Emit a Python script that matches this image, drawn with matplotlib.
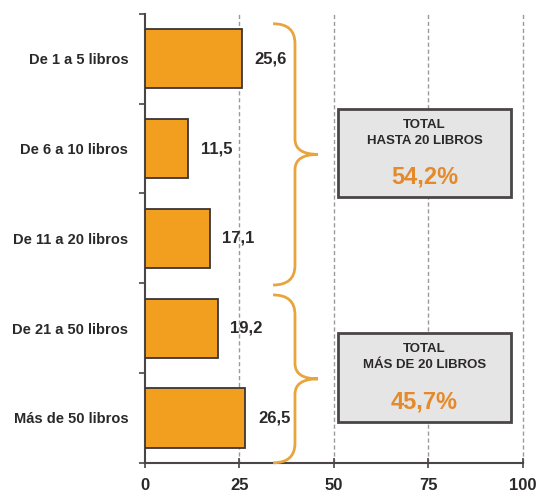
import matplotlib.pyplot as plt
from matplotlib.path import Path
from matplotlib.patches import PathPatch, Rectangle

plt.rcParams['font.family'] = ['Liberation Sans', 'DejaVu Sans']

categorias = ['De 1 a 5 libros', 'De 6 a 10 libros', 'De 11 a 20 libros',
              'De 21 a 50 libros', 'Más de 50 libros']
valores = [25.6, 11.5, 17.1, 19.2, 26.5]
grupos = [(0, 3, 'TOTAL\nHASTA 20 LIBROS'), (3, 5, 'TOTAL\nMÁS DE 20 LIBROS')]
xticks = [0, 25, 50, 75, 100]

naranja = '#F29E1F'
naranja_llave = '#E9A53D'
gris_oscuro = '#4A4546'
texto = '#2b2828'

fig = plt.figure(figsize=(5.39, 4.95), dpi=100)
ax = fig.add_axes([0.269, 0.065, 0.701, 0.907])

y = list(range(len(categorias)))
ax.barh(y, valores, height=0.66, color=naranja, edgecolor='#3a3536',
        linewidth=1.3, zorder=3)

for yi, v in zip(y, valores):
    ax.text(v + 3.4, yi, f'{v:.1f}'.replace('.', ','), va='center', ha='left',
            fontsize=12, fontweight='bold', color=texto)

ax.set_xlim(0, 100)
ax.set_ylim(4.5, -0.5)
ax.set_xticks(xticks)
ax.set_xticklabels([str(t) for t in xticks], fontsize=12, fontweight='bold',
                   color=texto)
ax.set_yticks(y)
ax.set_yticklabels(categorias, fontsize=10.5, fontweight='bold', color=texto)
ax.set_yticks([i - 0.5 for i in range(len(categorias) + 1)], minor=True)
ax.tick_params(axis='y', which='major', length=0, pad=12)
ax.tick_params(axis='y', which='minor', length=4, width=1.2, color=gris_oscuro,
               direction='out')
ax.tick_params(axis='x', length=7, width=1.2, color=gris_oscuro,
               direction='inout', pad=7.5)

for s in ['top', 'right']:
    ax.spines[s].set_visible(False)
for s in ['left', 'bottom']:
    ax.spines[s].set_color(gris_oscuro)
    ax.spines[s].set_linewidth(1.5)

for t in xticks[1:]:
    ax.axvline(t, color='#9a9a9a', linestyle=(0, (3, 2)), linewidth=1, zorder=1,
               clip_on=False)


def llave(ax, y0, y1, x0=33.9, xv=39.7, xt=45.8, r=0.22, rt=0.17):
    ym = (y0 + y1) / 2
    verts = [
        (x0, y0), (xv, y0), (xv, y0 + r),
        (xv, ym - rt),
        (xv, ym), (xt, ym),
        (xv, ym), (xv, ym + rt),
        (xv, y1 - r),
        (xv, y1), (x0, y1),
    ]
    codes = [Path.MOVETO, Path.CURVE3, Path.CURVE3,
             Path.LINETO,
             Path.CURVE3, Path.CURVE3,
             Path.CURVE3, Path.CURVE3,
             Path.LINETO,
             Path.CURVE3, Path.CURVE3]
    ax.add_patch(PathPatch(Path(verts, codes), fill=False, edgecolor=naranja_llave,
                           linewidth=2, clip_on=False, zorder=4))


for (i0, i1, titulo), (ya, yb), (ytop, ybot) in zip(
        grupos, [(-0.39, 2.52), (2.63, 4.5)], [(0.56, 1.54), (3.05, 4.04)]):
    llave(ax, ya, yb)
    ax.add_patch(Rectangle((51.1, ytop), 45.7, ybot - ytop, facecolor='#E6E5E5',
                           edgecolor=gris_oscuro, linewidth=2, zorder=5))
    total = sum(valores[i0:i1])
    cx = 51.1 + 45.7 / 2
    ax.text(cx, ytop + 0.27, titulo, ha='center', va='center', fontsize=9.5,
            fontweight='bold', color=texto, linespacing=1.45, zorder=6)
    ax.text(cx, ybot - 0.22, f'{total:.1f}%'.replace('.', ','), ha='center',
            va='center', fontsize=17, fontweight='bold', color='#E58A2A', zorder=6)

fig.savefig('out.png', dpi=100)
